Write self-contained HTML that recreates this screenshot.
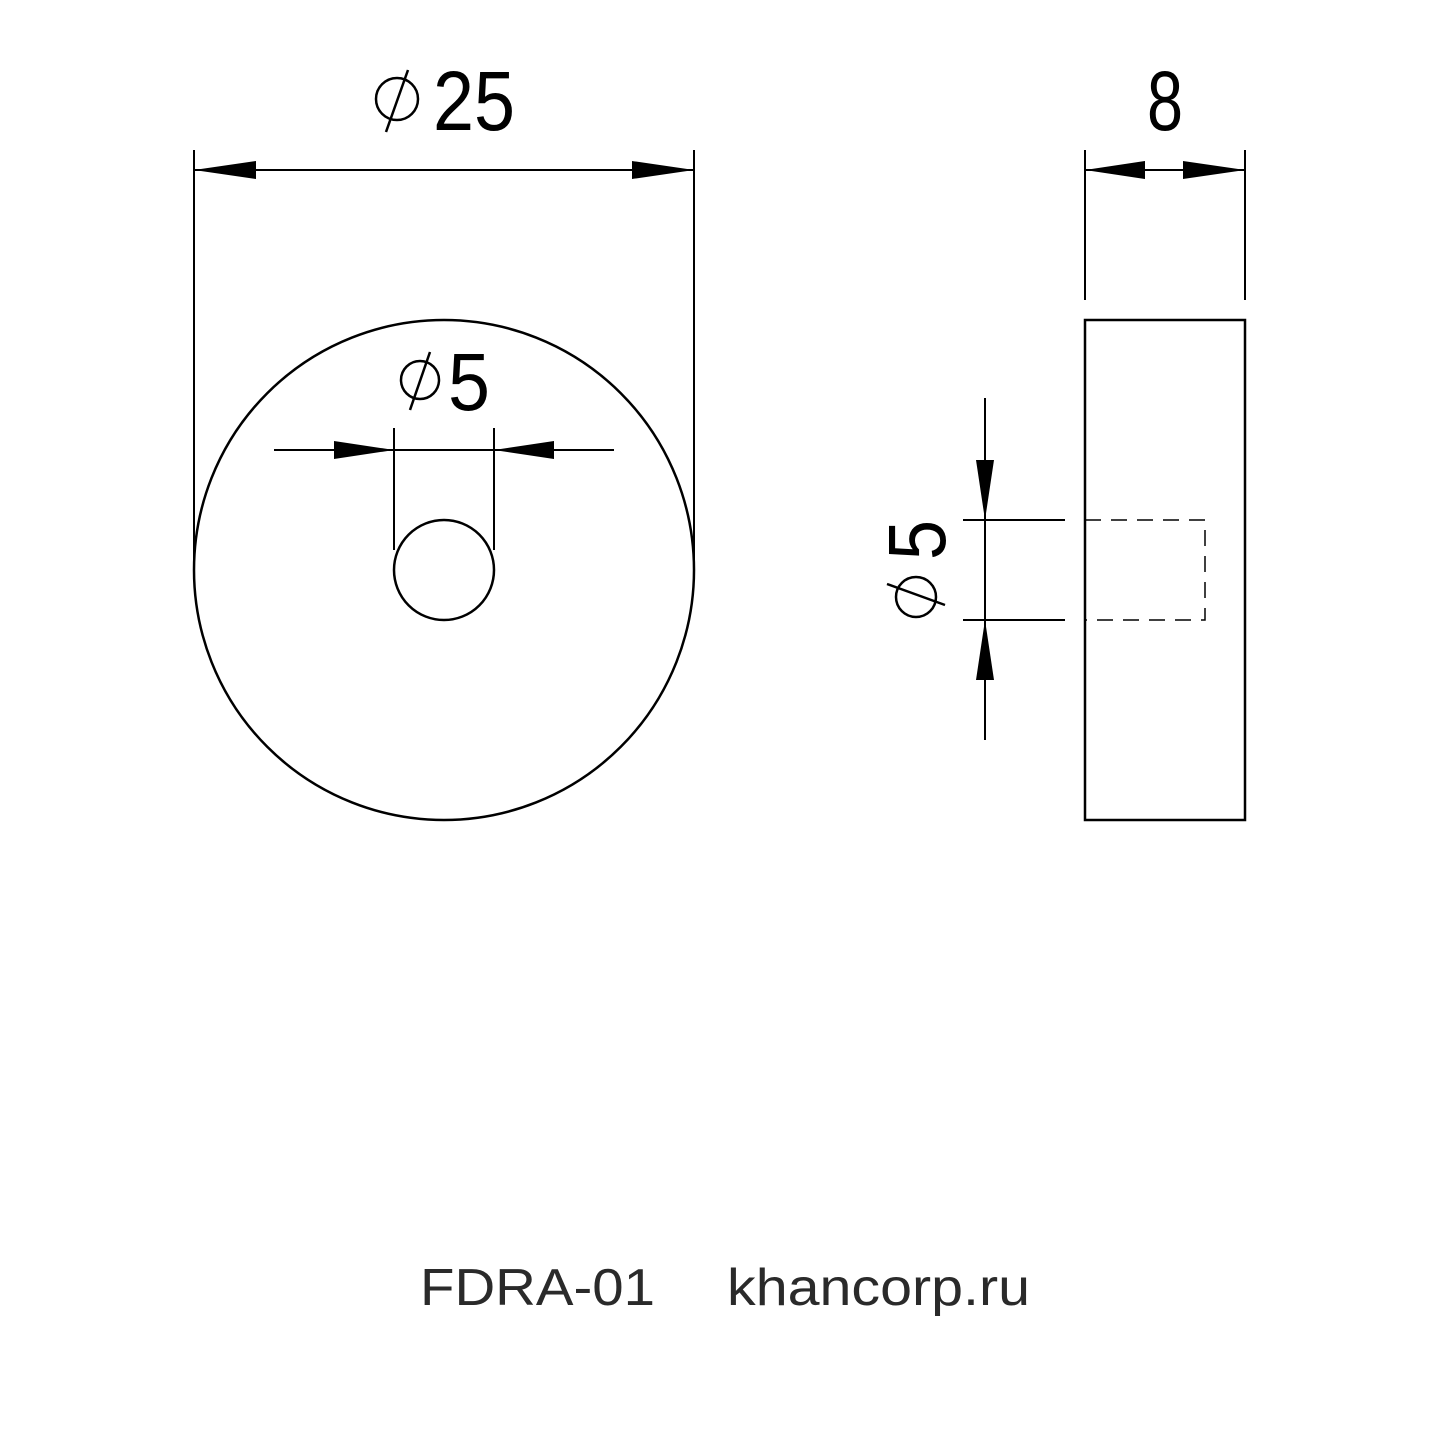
<!DOCTYPE html>
<html><head><style>html,body{margin:0;padding:0;background:#fff}svg{display:block}</style></head><body>
<svg width="1444" height="1444" viewBox="0 0 1444 1444" xmlns="http://www.w3.org/2000/svg">
<g stroke="#000" fill="none" stroke-width="2.5">
<circle cx="444" cy="570" r="250"/>
<circle cx="444" cy="570" r="50"/>
<line x1="194" y1="150" x2="194" y2="570" stroke-width="2"/>
<line x1="694" y1="150" x2="694" y2="570" stroke-width="2"/>
<line x1="194" y1="170" x2="694" y2="170" stroke-width="2"/>
<line x1="274" y1="450" x2="614" y2="450" stroke-width="2"/>
<line x1="394" y1="428" x2="394" y2="550" stroke-width="2"/>
<line x1="494" y1="428" x2="494" y2="550" stroke-width="2"/>
<rect x="1085" y="320" width="160" height="500"/>
<path d="M1085 520 H1205 V620 H1085" stroke-width="1.5" stroke-dasharray="16,10"/>
<line x1="1085" y1="150" x2="1085" y2="300" stroke-width="2"/>
<line x1="1245" y1="150" x2="1245" y2="300" stroke-width="2"/>
<line x1="1085" y1="170" x2="1245" y2="170" stroke-width="2"/>
<line x1="985" y1="398" x2="985" y2="740" stroke-width="2"/>
<line x1="963" y1="520" x2="1065" y2="520" stroke-width="2"/>
<line x1="963" y1="620" x2="1065" y2="620" stroke-width="2"/>
<circle cx="397" cy="99" r="21"/>
<line x1="408" y1="70" x2="386" y2="132"/>
<circle cx="420" cy="380" r="19"/>
<line x1="430" y1="352" x2="410" y2="410"/>
<circle cx="916" cy="597" r="20"/>
<line x1="887" y1="584" x2="945" y2="605"/>
</g>
<g fill="#000">
<polygon points="194,170 256,161 256,179"/>
<polygon points="694,170 632,161 632,179"/>
<polygon points="394,450 334,441 334,459"/>
<polygon points="494,450 554,441 554,459"/>
<polygon points="1085,170 1145,161 1145,179"/>
<polygon points="1245,170 1183,161 1183,179"/>
<polygon points="985,520 976,460 994,460"/>
<polygon points="985,620 976,680 994,680"/>
</g>
<g font-family="Liberation Sans, sans-serif" fill="#000">
<text x="433" y="130" font-size="84" textLength="82" lengthAdjust="spacingAndGlyphs">25</text>
<text x="448" y="410" font-size="82" textLength="42" lengthAdjust="spacingAndGlyphs">5</text>
<text x="1147" y="130" font-size="84" textLength="36" lengthAdjust="spacingAndGlyphs">8</text>
<text transform="translate(945,560) rotate(-90)" x="0" y="0" font-size="82" textLength="40" lengthAdjust="spacingAndGlyphs">5</text>
</g>
<text x="420" y="1305" font-family="Liberation Sans, sans-serif" font-size="52" fill="#2a2a2a" textLength="235" lengthAdjust="spacingAndGlyphs">FDRA-01</text>
<text x="727" y="1305" font-family="Liberation Sans, sans-serif" font-size="52" fill="#2a2a2a" textLength="303" lengthAdjust="spacingAndGlyphs">khancorp.ru</text>
</svg>
</body></html>
